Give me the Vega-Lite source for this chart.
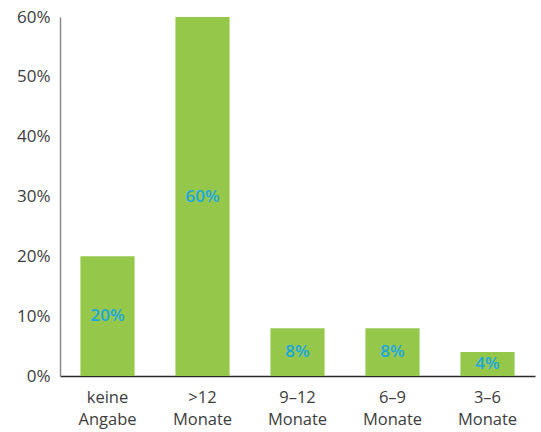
{
  "$schema": "https://vega.github.io/schema/vega-lite/v6.json",
  "width": 475,
  "height": 359,
  "autosize": {"type": "none"},
  "padding": {"left": 60, "top": 17, "right": 6, "bottom": 56},
  "background": "white",
  "config": {"view": {"stroke": null}, "font": "Open Sans"},
  "data": {
    "values": [
      {"kategorie": "keine\nAngabe", "anteil": 20},
      {"kategorie": ">12\nMonate", "anteil": 60},
      {"kategorie": "9–12\nMonate", "anteil": 8},
      {"kategorie": "6–9\nMonate", "anteil": 8},
      {"kategorie": "3–6\nMonate", "anteil": 4}
    ]
  },
  "transform": [
    {"calculate": "datum.anteil / 2", "as": "mitte"},
    {"calculate": "datum.anteil + '%'", "as": "beschriftung"}
  ],
  "encoding": {
    "x": {
      "field": "kategorie",
      "type": "nominal",
      "sort": null,
      "scale": {"paddingInner": 0.43, "paddingOuter": 0.215},
      "axis": {
        "title": null,
        "labelAngle": 0,
        "labelExpr": "split(datum.label, '\\n')",
        "labelFontSize": 16.5,
        "labelColor": "#3c3c3c",
        "labelLineHeight": 22,
        "labelPadding": 13,
        "labelBaseline": "top",
        "ticks": false,
        "domainColor": "#2b2b2b",
        "domainWidth": 1.5
      }
    }
  },
  "layer": [
    {
      "mark": {"type": "bar", "color": "#95c84a"},
      "encoding": {
        "y": {
          "field": "anteil",
          "type": "quantitative",
          "scale": {"domain": [0, 60], "nice": false},
          "axis": {
            "title": null,
            "values": [0, 10, 20, 30, 40, 50, 60],
            "labelExpr": "datum.value + '%'",
            "labelFontSize": 17,
            "labelColor": "#3c3c3c",
            "labelPadding": 10,
            "ticks": false,
            "grid": false,
            "domainColor": "#8a8a8a",
            "domainWidth": 1.5
          }
        }
      }
    },
    {
      "mark": {
        "type": "text",
        "color": "#1aa7e0",
        "fontSize": 17,
        "fontWeight": 600,
        "baseline": "middle",
        "align": "center"
      },
      "encoding": {
        "y": {"field": "mitte", "type": "quantitative"},
        "text": {"field": "beschriftung", "type": "nominal"}
      }
    }
  ]
}
